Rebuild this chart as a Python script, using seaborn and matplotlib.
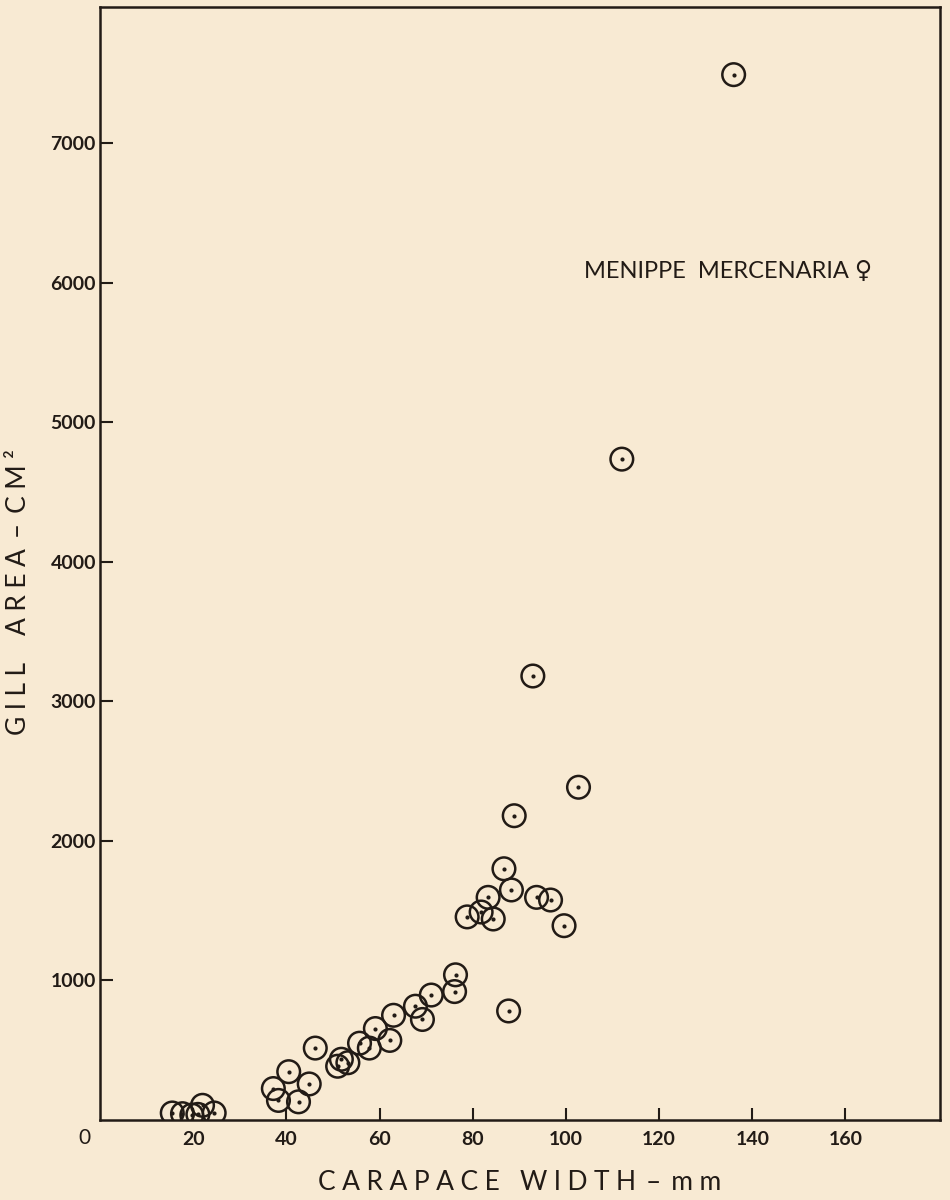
import matplotlib.pyplot as plt
import seaborn as sns

# carapace width (mm) vs gill area (cm2)
width_mm = [15.5, 17.7, 19.7, 21.0, 22.0, 24.5,
            37.2, 38.3, 40.5, 42.6, 44.9, 46.2,
            51.0, 51.8, 53.2, 55.7, 57.8, 59.1, 62.2, 63.0,
            67.7, 69.2, 71.1, 76.1, 76.3,
            78.8, 81.8, 83.3, 84.4, 86.7, 88.3, 87.7, 88.9,
            93.7, 96.7, 99.6, 102.7, 92.9, 112.0, 136.0]
gill_area = [50, 45, 35, 40, 105, 50,
             225, 140, 346, 130, 258, 515,
             385, 435, 410, 550, 515, 655, 570, 750,
             815, 720, 895, 920, 1040,
             1455, 1490, 1595, 1440, 1800, 1648, 781, 2180,
             1595, 1576, 1392, 2384, 3181, 4735, 7490]

x_ticks = [20, 40, 60, 80, 100, 120, 140, 160]
y_ticks = [1000, 2000, 3000, 4000, 5000, 6000, 7000]

paper = "#f8ead3"
ink = "#221b16"


def spaced(s, gap="\u2009\u2009"):
    # wide lettering like the hand-lettered plate
    return gap.join(s)


sns.set_style("ticks")
plt.rcParams["font.family"] = ["Lato", "DejaVu Sans"]

fig = plt.figure(figsize=(9.5, 12), dpi=100, facecolor=paper)
ax = fig.add_axes([0.1053, 0.0667, 0.8842, 0.9275])
ax.set_facecolor(paper)

# open rings with a dot in the middle
sns.scatterplot(x=width_mm, y=gill_area, ax=ax, s=265, marker="o",
                facecolor="none", edgecolor=ink, linewidth=1.8, zorder=3)
sns.scatterplot(x=width_mm, y=gill_area, ax=ax, s=9, marker="o",
                color=ink, edgecolor=ink, linewidth=0, zorder=4)

ax.set_xlim(0, 180.3)
ax.set_ylim(0, 7975)
ax.set_xticks(x_ticks)
ax.set_yticks(y_ticks)

for side in ["top", "right", "bottom", "left"]:
    ax.spines[side].set_visible(True)
    ax.spines[side].set_linewidth(1.8)
    ax.spines[side].set_color(ink)

ax.tick_params(axis="both", direction="in", length=9, width=1.5, color=ink,
               labelcolor=ink, labelsize=14)
ax.tick_params(axis="x", pad=8)
ax.tick_params(axis="y", pad=3)
for lab in ax.get_xticklabels() + ax.get_yticklabels():
    lab.set_fontweight("bold")

# shared origin label
ax.annotate("0", xy=(0, 0), xytext=(-11, -13), textcoords="offset points",
            ha="center", va="center", fontsize=15, color=ink, annotation_clip=False)

dash = "\u2009 – \u2009"
ax.set_xlabel(spaced("CARAPACE") + "   " + spaced("WIDTH") + dash + spaced("mm"),
              fontsize=19, color=ink, labelpad=16)
ax.set_ylabel(spaced("GILL") + "    " + spaced("AREA") + dash + spaced("CM²"),
              fontsize=19, color=ink)
ax.yaxis.set_label_coords(-0.082, 0.474)

ax.text(165.8, 6080, "MENIPPE  MERCENARIA ♀",
        fontsize=17, color=ink, ha="right", va="center")

fig.savefig("out.png", dpi=100, facecolor=paper)
